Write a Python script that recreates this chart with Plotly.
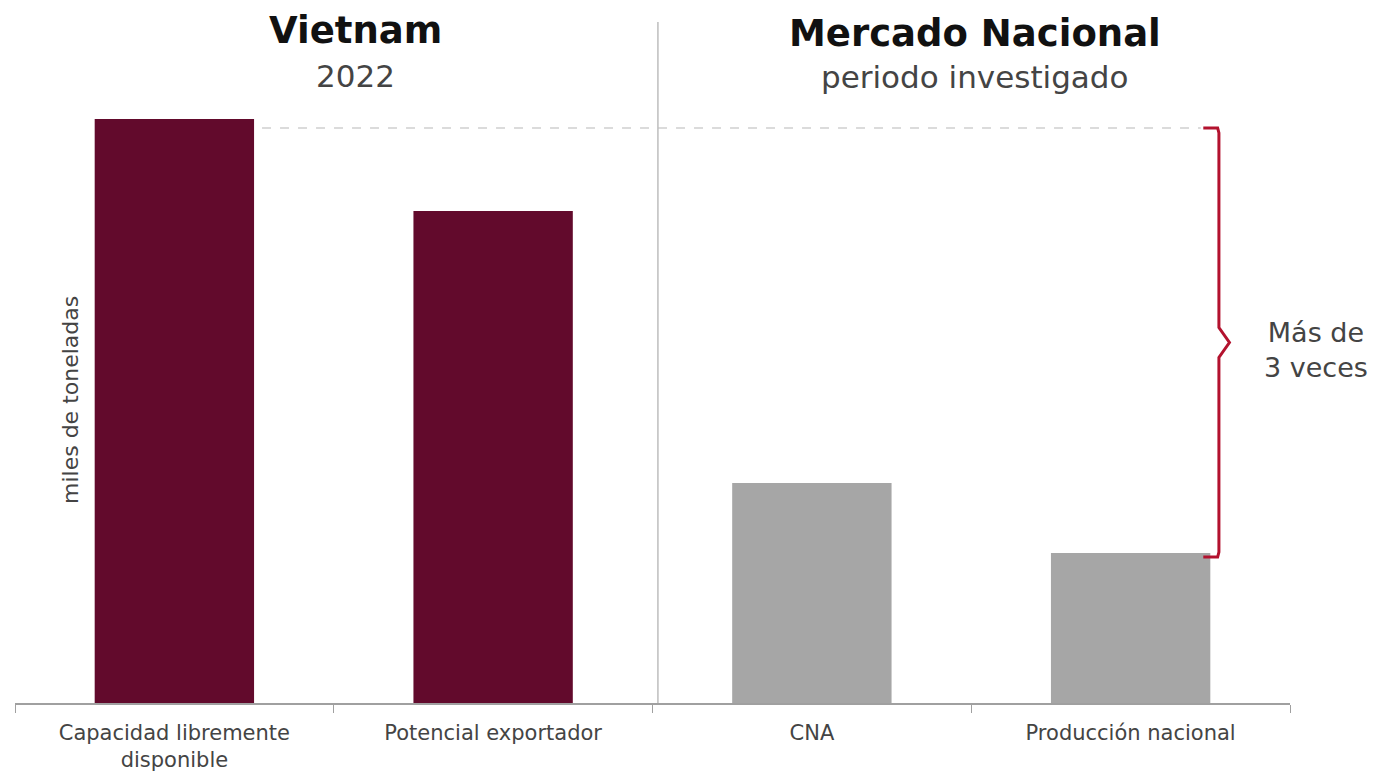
import plotly.graph_objects as go

categories = ["Capacidad libremente<br>disponible", "Potencial exportador", "CNA", "Producción nacional"]
values = [584, 492, 220, 150]
bar_colors = ["#620a2c", "#620a2c", "#a6a6a6", "#a6a6a6"]
ref_level = 575          # dashed reference line (Vietnam capacity level)
brace_low = 146          # bottom of brace (Producción nacional level)
brace_label = "Más de<br>3 veces"
group_titles = ["<b>Vietnam</b>", "<b>Mercado Nacional</b>"]
group_subtitles = ["2022", "periodo investigado"]
y_title = "miles de toneladas"

FONT = "DejaVu Sans"
TXT = "#444444"
RED = "#b3122e"

# page body has an 8px margin; figure sized so it fills the 1390x774 window
W, H = 1382, 766
L, R, T, B = 7, 100, 12, 71
PLOT_W = W - L - R
PLOT_H = H - T - B

def px_x(page_x):
    return (page_x - 8 - L) / PLOT_W

def px_y(page_y):
    return (H - B - (page_y - 8)) / PLOT_H

fig = go.Figure()
fig.add_trace(go.Bar(
    x=categories, y=values, marker=dict(color=bar_colors, line=dict(width=0)),
    width=0.5, hoverinfo="skip", showlegend=False,
))

# brace, drawn on overlay numeric axis
bx0, bx1, bx2 = 3.228, 3.277, 3.31
mid = (ref_level + brace_low) / 2
brace_x = [bx0, bx1 - 0.004, bx1, bx1, bx2, bx1, bx1, bx1 - 0.004, bx0]
brace_y = [ref_level, ref_level, ref_level - 5, mid + 15, mid, mid - 15, brace_low + 5, brace_low, brace_low]
fig.add_trace(go.Scatter(
    x=brace_x, y=brace_y, xaxis="x2", yaxis="y", mode="lines",
    line=dict(color=RED, width=3), hoverinfo="skip", showlegend=False,
))

fig.update_layout(
    width=W, height=H,
    margin=dict(l=L, r=R, t=T, b=B, autoexpand=False),
    plot_bgcolor="white", paper_bgcolor="white",
    font=dict(family=FONT, color=TXT),
    xaxis=dict(
        type="category", range=[-0.5, 3.5], showline=True, linecolor="#a0a0a0", linewidth=1.5,
        ticks="outside", tickson="boundaries", ticklen=8, tickcolor="#a0a0a0",
        ticklabelstandoff=10, automargin=False,
        tickfont=dict(size=21, color=TXT, family=FONT), showgrid=False, zeroline=False,
    ),
    xaxis2=dict(range=[-0.5, 3.5], overlaying="x", visible=False),
    yaxis=dict(range=[0, 683], visible=False, showgrid=False, zeroline=False, automargin=False),
    bargap=0.5,
)

# dashed reference line
fig.add_shape(type="line", xref="x2", yref="y", x0=0.275, x1=3.22, y0=ref_level, y1=ref_level,
              line=dict(color="#cfcfcf", width=1.5, dash="dash"))
# separator
fig.add_shape(type="line", xref="x2", yref="paper", x0=1.517, x1=1.517, y0=0, y1=px_y(22),
              line=dict(color="#bdbdbd", width=1.5))

title_px = [355, 975]
title_py = [31, 33]
sub_py = [76, 77]
for tx, ty, sy, t, s in zip(title_px, title_py, sub_py, group_titles, group_subtitles):
    fig.add_annotation(x=px_x(tx), xref="paper", y=px_y(ty), yref="paper", text=t, showarrow=False,
                       font=dict(size=37, color="#111111", family=FONT),
                       xanchor="center", yanchor="middle")
    fig.add_annotation(x=px_x(tx), xref="paper", y=px_y(sy), yref="paper", text=s, showarrow=False,
                       font=dict(size=31, color=TXT, family=FONT),
                       xanchor="center", yanchor="middle")

fig.add_annotation(x=px_x(1316), xref="paper", y=px_y(350), yref="paper", text=brace_label,
                   showarrow=False, font=dict(size=27, color=TXT, family=FONT),
                   xanchor="center", yanchor="middle")

fig.add_annotation(x=px_x(70), xref="paper", y=px_y(400), yref="paper", text=y_title, textangle=-90,
                   showarrow=False, font=dict(size=22, color=TXT, family=FONT),
                   xanchor="center", yanchor="middle")

fig.write_html("out.html")
